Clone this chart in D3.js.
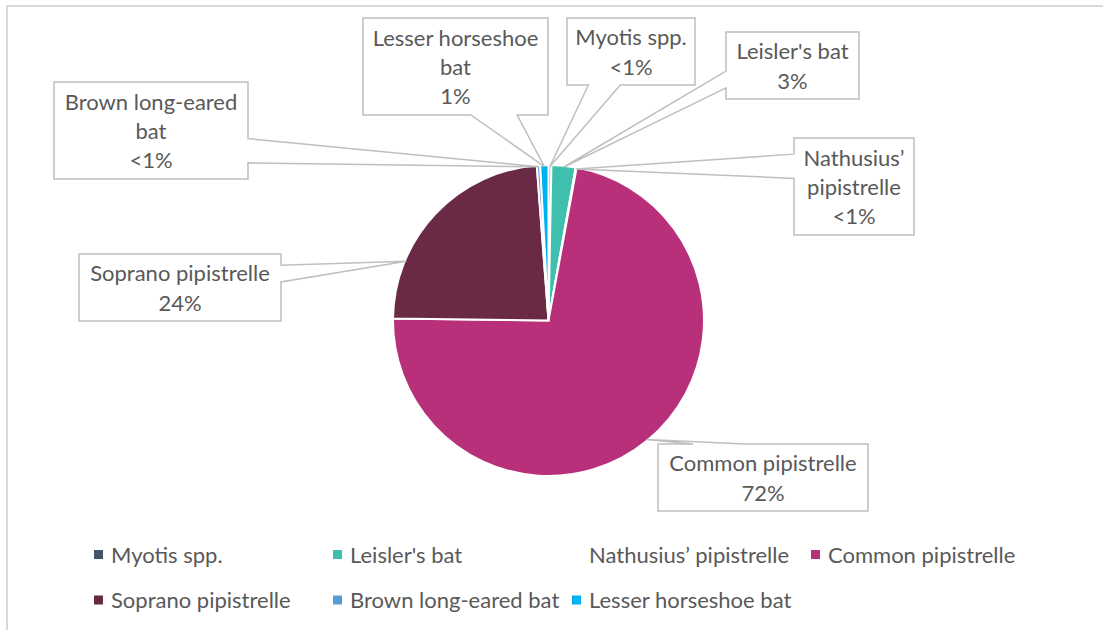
<!DOCTYPE html>
<html>
<head>
<meta charset="utf-8">
<script src="https://cdn.jsdelivr.net/npm/d3@7"></script>
<style>
  body { margin: 0; background: #fff; }
  svg { display: block; }
  text { font-family: Lato, "Open Sans", sans-serif; fill: #595959; }
</style>
</head>
<body>
<svg id="chart"></svg>
<script>
// ===============================
// Data
// ===============================
const species = [
    "Myotis spp.",
    "Leisler's bat",
    "Nathusius\u2019 pipistrelle",
    "Common pipistrelle",
    "Soprano pipistrelle",
    "Brown long-eared bat",
    "Lesser horseshoe bat"
];

// share of records, percent
const shares = [0.3, 2.5, 0.1, 72.3, 23.6, 0.35, 0.85];

const colours = ["#44546A", "#3FBFAD", "none", "#B9307A", "#6A2A45", "#5B9BD5", "#00B0F0"];

// callout boxes (x, y, w, h) per species, same order; tipDeg overrides the slice mid-angle
const callouts = [
    { box: [567, 18, 128, 67] },
    { box: [726, 32, 133, 67] },
    { box: [794, 138, 120, 97] },
    { box: [658, 444, 210, 67] },
    { box: [79, 254, 202, 67], tipDeg: 292.6 },
    { box: [54, 82, 194, 97] },
    { box: [363, 18, 185, 97] }
];

// ===============================
// Setup
// ===============================
const width = 1103, height = 630;
const cx = 548.5, cy = 320.5, radius = 155.5;
const fontSize = 22, lineH = 29.3;

const svg = d3.select("#chart")
    .attr("width", width)
    .attr("height", height);

// chart frame (only top and left edges are inside the picture)
svg.append("rect")
    .attr("x", 7).attr("y", 6)
    .attr("width", 1200).attr("height", 700)
    .attr("fill", "none")
    .attr("stroke", "#D9D9D9")
    .attr("stroke-width", 2);

// ===============================
// Pie
// ===============================
const pie = d3.pie().sort(null).value(d => d.value);
const arcs = pie(species.map((s, i) => ({ name: s, value: shares[i], colour: colours[i] })));

const arc = d3.arc().innerRadius(0).outerRadius(radius);

const g = svg.append("g").attr("transform", `translate(${cx},${cy})`);

g.selectAll("path")
    .data(arcs)
    .enter()
    .append("path")
    .attr("d", arc)
    .attr("fill", d => d.data.colour === "none" ? "#fff" : d.data.colour)
    .attr("stroke", "#fff")
    .attr("stroke-width", 2);

// ===============================
// Callout labels
// ===============================
function pctLabel(v) {
    const r = Math.round(v);
    return r < 1 ? "<1%" : r + "%";
}

// wedge rectangle callout (like the office shape)
function calloutPath(b, tip) {
    const [x, y, w, h] = b;
    const hc = x + w / 2, vc = y + h / 2;
    const dx = tip[0] - hc, dy = tip[1] - vc;
    const dq = dx * h / w;
    const dz = Math.abs(dy) - Math.abs(dq);
    const x1 = x + w * (dx > 0 ? 7 : 2) / 12, x2 = x + w * (dx > 0 ? 10 : 5) / 12;
    const y1 = y + h * (dy > 0 ? 7 : 2) / 12, y2 = y + h * (dy > 0 ? 10 : 5) / 12;
    let pts;
    if (dz > 0) {
        if (dy < 0) pts = [[x, y], [x1, y], tip, [x2, y], [x + w, y], [x + w, y + h], [x, y + h]];
        else pts = [[x, y], [x + w, y], [x + w, y + h], [x2, y + h], tip, [x1, y + h], [x, y + h]];
    } else {
        if (dx < 0) pts = [[x, y], [x + w, y], [x + w, y + h], [x, y + h], [x, y2], tip, [x, y1]];
        else pts = [[x, y], [x + w, y], [x + w, y1], tip, [x + w, y2], [x + w, y + h], [x, y + h]];
    }
    return "M" + pts.map(p => p.join(",")).join("L") + "Z";
}

// measure helper for word wrapping
const probe = svg.append("text").attr("font-size", fontSize).attr("visibility", "hidden");
function textWidth(s) {
    probe.text(s);
    return probe.node().getComputedTextLength();
}
function wrap(s, maxW) {
    const words = s.split(" ");
    const lines = [];
    let cur = words[0];
    for (let i = 1; i < words.length; i++) {
        const test = cur + " " + words[i];
        if (textWidth(test) > maxW) { lines.push(cur); cur = words[i]; }
        else cur = test;
    }
    lines.push(cur);
    return lines;
}

const labels = svg.append("g");

arcs.forEach((d, i) => {
    const c = callouts[i];
    const ang = c.tipDeg !== undefined ? c.tipDeg * Math.PI / 180 : (d.startAngle + d.endAngle) / 2;
    const tipR = radius - 1.5;
    const tip = [cx + tipR * Math.sin(ang), cy - tipR * Math.cos(ang)];

    labels.append("path")
        .attr("d", calloutPath(c.box, tip))
        .attr("fill", "#fff")
        .attr("stroke", "#BFBFBF")
        .attr("stroke-width", 1.5)
        .attr("stroke-linejoin", "miter");

    const [x, y, w, h] = c.box;
    const lines = wrap(d.data.name, w - 14).concat([pctLabel(d.data.value)]);
    const top = y + h / 2 - (lines.length - 1) * lineH / 2;

    labels.selectAll(null)
        .data(lines)
        .enter()
        .append("text")
        .attr("x", x + w / 2)
        .attr("y", (t, j) => top + j * lineH + 8.5)
        .attr("text-anchor", "middle")
        .attr("font-size", fontSize)
        .text(t => t);
});

probe.remove();

// ===============================
// Legend
// ===============================
const legendX = d3.scalePoint().domain(d3.range(4)).range([94, 811]);
const legendY = [554.5, 600];

const legend = svg.append("g")
    .selectAll("g")
    .data(species)
    .enter()
    .append("g")
    .attr("transform", (s, i) => `translate(${legendX(i % 4)},${legendY[Math.floor(i / 4)]})`);

legend.append("rect")
    .attr("x", 0).attr("y", -4.5)
    .attr("width", 9).attr("height", 9)
    .attr("fill", (s, i) => colours[i] === "none" ? "none" : colours[i]);

legend.append("text")
    .attr("x", 17)
    .attr("y", 8)
    .attr("font-size", fontSize)
    .text(s => s);
</script>
</body>
</html>
